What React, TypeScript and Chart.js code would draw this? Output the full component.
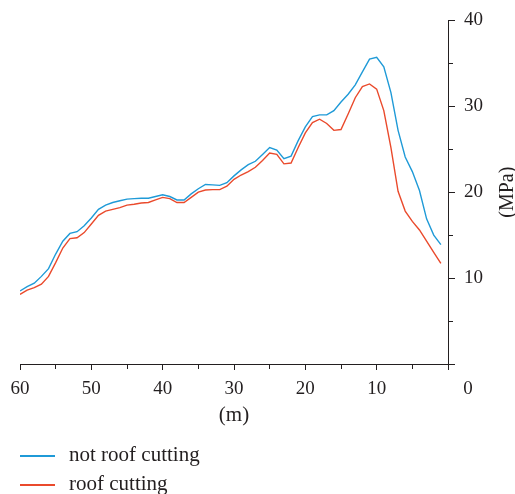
import React, { useEffect, useRef } from 'react';
import { Chart, registerables } from 'chart.js';

Chart.register(...registerables);

// distance from the working face (m)
const distances = [
  60, 59, 58, 57, 56, 55, 54, 53, 52, 51,
  50, 49, 48, 47, 46, 45, 44, 43, 42, 41,
  40, 39, 38, 37, 36, 35, 34, 33, 32, 31,
  30, 29, 28, 27, 26, 25, 24, 23, 22, 21,
  20, 19, 18, 17, 16, 15, 14, 13, 12, 11,
  10, 9, 8, 7, 6, 5, 4, 3, 2, 1,
];

// stress (MPa)
const notRoofCutting = [
  8.5, 9.0, 9.4, 10.2, 11.1, 12.8, 14.3, 15.2, 15.4, 16.1,
  17.0, 18.0, 18.5, 18.8, 19.0, 19.2, 19.25, 19.3, 19.3, 19.5,
  19.7, 19.5, 19.1, 19.1, 19.8, 20.4, 20.9, 20.85, 20.8, 21.1,
  21.9, 22.6, 23.2, 23.6, 24.4, 25.2, 24.9, 23.9, 24.2, 26.0,
  27.6, 28.8, 29.0, 29.0, 29.5, 30.5, 31.4, 32.5, 34.0, 35.5,
  35.7, 34.6, 31.6, 27.2, 24.1, 22.4, 20.2, 16.9, 15.0, 13.9,
];

const roofCutting = [
  8.1, 8.6, 8.9, 9.3, 10.2, 11.8, 13.5, 14.6, 14.7, 15.3,
  16.3, 17.3, 17.8, 18.0, 18.2, 18.5, 18.6, 18.75, 18.8, 19.1,
  19.4, 19.25, 18.8, 18.8, 19.4, 20.0, 20.25, 20.3, 20.3, 20.7,
  21.5, 22.0, 22.4, 22.9, 23.7, 24.55, 24.4, 23.3, 23.4, 25.2,
  26.9, 28.1, 28.5, 28.0, 27.2, 27.3, 29.1, 31.0, 32.3, 32.6,
  32.0, 29.5, 25.2, 20.1, 17.8, 16.6, 15.6, 14.3, 13.0, 11.7,
];

const seriesNames = ['not roof cutting', 'roof cutting'];
const xLabelValues = [60, 50, 40, 30, 20, 10];
const yLabelValues = [10, 20, 30, 40];
const xTitle = '(m)';
const yTitle = '(MPa)';
const zeroLabel = '0';

const FONT = "'Liberation Serif', 'Times New Roman', serif";
const INK = '#231f20';
const BLUE = '#1f9ad7';
const RED = '#ea4a2c';
const COLORS = [BLUE, RED];

const extraText = {
  id: 'extraText',
  afterDraw(chart: any) {
    const { ctx, chartArea, scales } = chart;
    const xs = scales.x;
    ctx.save();
    ctx.fillStyle = INK;
    ctx.textAlign = 'center';
    ctx.textBaseline = 'middle';
    ctx.font = `19px ${FONT}`;
    ctx.fillText(zeroLabel, xs.getPixelForValue(0) + 20, chartArea.bottom + 25.4);
    ctx.font = `20px ${FONT}`;
    ctx.translate(508, (chartArea.top + chartArea.bottom) / 2);
    ctx.rotate(-Math.PI / 2);
    ctx.fillText(yTitle, 0, 0);
    ctx.restore();
  },
};

const minorDash = (c: any) => (c.tick && c.tick.value % 10 !== 0 ? [4, 30] : []);

export default function App() {
  const ref = useRef<HTMLCanvasElement | null>(null);

  useEffect(() => {
    document.body.style.margin = '0';
    const canvas = ref.current;
    if (!canvas) return;
    const chart = new Chart(canvas, {
      type: 'line',
      data: {
        datasets: [notRoofCutting, roofCutting].map((vals, k) => ({
          label: seriesNames[k],
          data: distances.map((d, i) => ({ x: d, y: vals[i] })),
          borderColor: COLORS[k],
          backgroundColor: COLORS[k],
          borderWidth: 1.4,
          pointRadius: 0,
          tension: 0,
          fill: false,
        })),
      },
      options: {
        responsive: false,
        animation: false,
        devicePixelRatio: 1,
        layout: { padding: { left: 20, top: 19, right: 0, bottom: 66 } },
        plugins: {
          legend: { display: false },
          tooltip: { enabled: false },
        },
        scales: {
          x: {
            type: 'linear',
            min: 0,
            max: 60,
            reverse: true,
            afterFit: (s: any) => {
              s.height = 64;
            },
            border: { display: true, color: INK, width: 1 },
            grid: {
              drawOnChartArea: false,
              drawTicks: true,
              tickLength: 6,
              color: INK,
              tickBorderDash: minorDash,
            },
            ticks: {
              stepSize: 5,
              autoSkip: false,
              maxRotation: 0,
              padding: 8,
              color: INK,
              font: { family: FONT, size: 19 },
              callback: (v: any) => (xLabelValues.includes(Number(v)) ? String(v) : ''),
            },
            title: {
              display: true,
              text: xTitle,
              color: INK,
              padding: 0,
              font: { family: FONT, size: 21 },
            },
          },
          y: {
            type: 'linear',
            position: 'right',
            min: 0,
            max: 40,
            afterFit: (s: any) => {
              s.width = 67;
            },
            border: { display: true, color: INK, width: 1 },
            grid: {
              drawOnChartArea: false,
              drawTicks: true,
              tickLength: 7,
              color: INK,
              tickBorderDash: minorDash,
            },
            ticks: {
              stepSize: 5,
              autoSkip: false,
              padding: 9,
              color: INK,
              font: { family: FONT, size: 19 },
              callback: (v: any) => (yLabelValues.includes(Number(v)) ? String(v) : ''),
            },
          },
        },
      },
      plugins: [extraText],
    } as any);
    return () => chart.destroy();
  }, []);

  const legendTops = [442, 471];
  const swatchYs = [456, 485];

  return (
    <div style={{ position: 'relative', width: 515, height: 494, background: '#fff', overflow: 'hidden' }}>
      <canvas ref={ref} width={515} height={494} style={{ display: 'block', width: 515, height: 494 }} />
      {seriesNames.map((name, k) => (
        <React.Fragment key={name}>
          <div
            style={{
              position: 'absolute',
              left: 20,
              top: swatchYs[k] - 1,
              width: 35,
              height: 2,
              background: COLORS[k],
            }}
          />
          <div
            style={{
              position: 'absolute',
              left: 69,
              top: legendTops[k],
              fontFamily: FONT,
              fontSize: 21,
              lineHeight: '24px',
              color: INK,
              whiteSpace: 'nowrap',
            }}
          >
            {name}
          </div>
        </React.Fragment>
      ))}
    </div>
  );
}
